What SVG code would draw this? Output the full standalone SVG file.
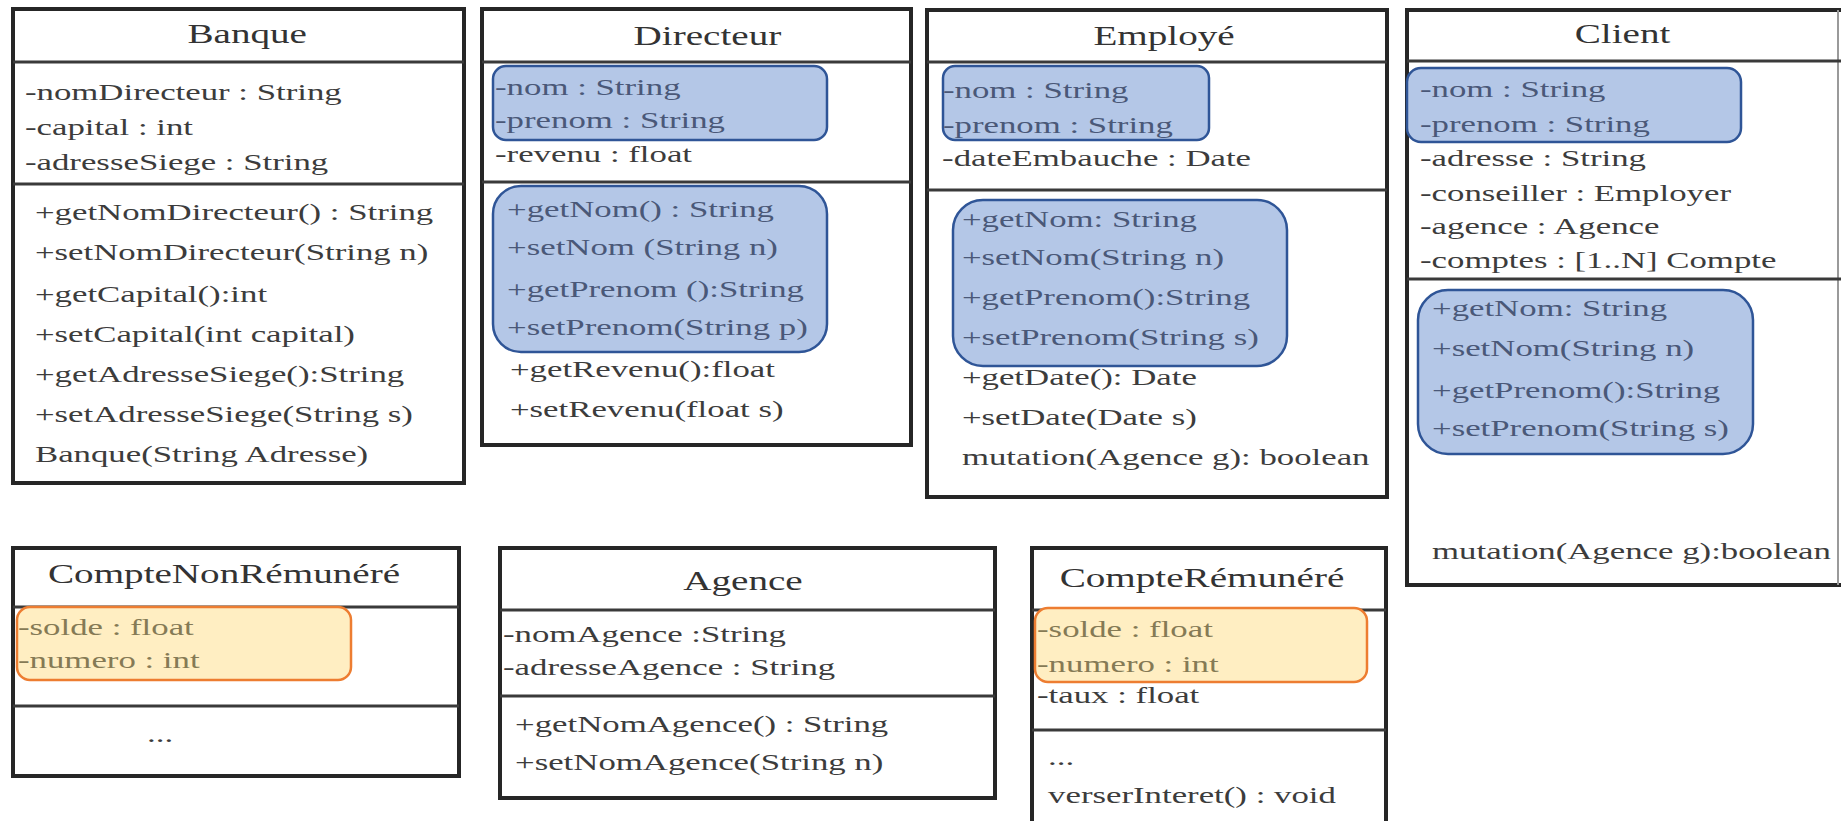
<svg xmlns="http://www.w3.org/2000/svg" width="1841" height="821" viewBox="0 0 1841 821">
  <style>
    .box { fill: #ffffff; stroke: #262626; stroke-width: 4; }
    .sep { stroke: #3a3a3a; stroke-width: 3; }
    .edge { stroke: #9a9a9a; stroke-width: 2; }
    .hb { fill: #b4c7e7; stroke: #2f5597; stroke-width: 2.5; }
    .ho { fill: #ffeec2; stroke: #ed7d31; stroke-width: 2.5; }
    text { font-family: "Liberation Serif", "Times New Roman", serif; font-size: 24px; fill: #3c3c3c; }
    .title { font-size: 27px; text-anchor: middle; fill: #333333; }
    .tb { fill: #4a5878; }
    .to { fill: #857a55; }
  </style>

  <rect width="1841" height="821" fill="#ffffff"/>

  <!-- Banque -->
  <g id="banque">
    <rect class="box" x="13" y="9" width="451" height="474"/>
    <line class="sep" x1="13" y1="62" x2="464" y2="62"/>
    <line class="sep" x1="13" y1="184" x2="464" y2="184"/>
    <g transform="scale(1.45 1)">
      <text class="title" x="170.5" y="43">Banque</text>
      <text x="17.2" y="100">-nomDirecteur : String</text>
      <text x="17.2" y="135">-capital : int</text>
      <text x="17.2" y="170">-adresseSiege : String</text>
      <text x="24.1" y="220">+getNomDirecteur() : String</text>
      <text x="24.1" y="260">+setNomDirecteur(String n)</text>
      <text x="24.1" y="302">+getCapital():int</text>
      <text x="24.1" y="342">+setCapital(int capital)</text>
      <text x="24.1" y="382">+getAdresseSiege():String</text>
      <text x="24.1" y="422">+setAdresseSiege(String s)</text>
      <text x="24.1" y="462">Banque(String Adresse)</text>
    </g>
  </g>

  <!-- Directeur -->
  <g id="directeur">
    <rect class="box" x="482" y="9" width="429" height="436"/>
    <line class="sep" x1="482" y1="62" x2="911" y2="62"/>
    <line class="sep" x1="482" y1="182" x2="911" y2="182"/>
    <rect class="hb" x="493" y="66" width="334" height="74" rx="13"/>
    <rect class="hb" x="493" y="186" width="334" height="166" rx="28"/>
    <g transform="scale(1.45 1)">
      <text class="title" x="487.9" y="45">Directeur</text>
      <text class="tb" x="341.4" y="95">-nom : String</text>
      <text class="tb" x="341.4" y="128">-prenom : String</text>
      <text x="341.4" y="162">-revenu : float</text>
      <text class="tb" x="349.7" y="217">+getNom() : String</text>
      <text class="tb" x="349.7" y="255">+setNom (String n)</text>
      <text class="tb" x="349.7" y="297">+getPrenom ():String</text>
      <text class="tb" x="349.7" y="335">+setPrenom(String p)</text>
      <text x="351.7" y="377">+getRevenu():float</text>
      <text x="351.7" y="417">+setRevenu(float s)</text>
    </g>
  </g>

  <!-- Employé -->
  <g id="employe">
    <rect class="box" x="927" y="10" width="460" height="487"/>
    <line class="sep" x1="927" y1="62" x2="1387" y2="62"/>
    <line class="sep" x1="927" y1="190" x2="1387" y2="190"/>
    <rect class="hb" x="943" y="66" width="266" height="74" rx="12"/>
    <rect class="hb" x="953" y="200" width="334" height="166" rx="30"/>
    <g transform="scale(1.45 1)">
      <text class="title" x="802.8" y="45">Employé</text>
      <text class="tb" x="650.3" y="98">-nom : String</text>
      <text class="tb" x="650.3" y="133">-prenom : String</text>
      <text x="649.7" y="166">-dateEmbauche : Date</text>
      <text class="tb" x="663.4" y="227">+getNom: String</text>
      <text class="tb" x="663.4" y="265">+setNom(String n)</text>
      <text class="tb" x="663.4" y="305">+getPrenom():String</text>
      <text class="tb" x="663.4" y="345">+setPrenom(String s)</text>
      <text x="663.4" y="385">+getDate(): Date</text>
      <text x="663.4" y="425">+setDate(Date s)</text>
      <text x="663.4" y="465">mutation(Agence g): boolean</text>
    </g>
  </g>

  <!-- Client (runs past the right edge) -->
  <g id="client">
    <rect class="box" x="1407" y="10" width="445" height="575"/>
    <line class="edge" x1="1838" y1="10" x2="1838" y2="585"/>
    <line class="sep" x1="1407" y1="61" x2="1841" y2="61"/>
    <line class="sep" x1="1407" y1="279" x2="1841" y2="279"/>
    <rect class="hb" x="1407" y="68" width="334" height="74" rx="14"/>
    <rect class="hb" x="1418" y="290" width="335" height="164" rx="30"/>
    <g transform="scale(1.45 1)">
      <text class="title" x="1119" y="43">Client</text>
      <text class="tb" x="979.3" y="97">-nom : String</text>
      <text class="tb" x="979.3" y="132">-prenom : String</text>
      <text x="979.3" y="166">-adresse : String</text>
      <text x="979.3" y="201">-conseiller : Employer</text>
      <text x="979.3" y="234">-agence : Agence</text>
      <text x="979.3" y="268">-comptes : [1..N] Compte</text>
      <text class="tb" x="987.6" y="316">+getNom: String</text>
      <text class="tb" x="987.6" y="356">+setNom(String n)</text>
      <text class="tb" x="987.6" y="398">+getPrenom():String</text>
      <text class="tb" x="987.6" y="436">+setPrenom(String s)</text>
      <text x="987.6" y="559">mutation(Agence g):boolean</text>
    </g>
  </g>

  <!-- CompteNonRémunéré -->
  <g id="compte-non-remunere">
    <rect class="box" x="13" y="548" width="446" height="228"/>
    <line class="sep" x1="13" y1="607" x2="459" y2="607"/>
    <line class="sep" x1="13" y1="706" x2="459" y2="706"/>
    <rect class="ho" x="17" y="607" width="334" height="73" rx="13"/>
    <g transform="scale(1.45 1)">
      <text class="title" x="154.5" y="583">CompteNonRémunéré</text>
      <text class="to" x="12.4" y="635">-solde : float</text>
      <text class="to" x="12.4" y="668">-numero : int</text>
      <text x="101.4" y="742">...</text>
    </g>
  </g>

  <!-- Agence -->
  <g id="agence">
    <rect class="box" x="500" y="548" width="495" height="250"/>
    <line class="sep" x1="500" y1="610" x2="995" y2="610"/>
    <line class="sep" x1="500" y1="696" x2="995" y2="696"/>
    <g transform="scale(1.45 1)">
      <text class="title" x="512.4" y="590">Agence</text>
      <text x="346.9" y="642">-nomAgence :String</text>
      <text x="346.9" y="675">-adresseAgence : String</text>
      <text x="355.2" y="732">+getNomAgence() : String</text>
      <text x="355.2" y="770">+setNomAgence(String n)</text>
    </g>
  </g>

  <!-- CompteRémunéré (runs past the bottom edge) -->
  <g id="compte-remunere">
    <rect class="box" x="1032" y="548" width="354" height="290"/>
    <line class="sep" x1="1032" y1="610" x2="1386" y2="610"/>
    <line class="sep" x1="1032" y1="730" x2="1386" y2="730"/>
    <rect class="ho" x="1035" y="608" width="332" height="74" rx="13"/>
    <g transform="scale(1.45 1)">
      <text class="title" x="829" y="587">CompteRémunéré</text>
      <text class="to" x="715.2" y="637">-solde : float</text>
      <text class="to" x="715.2" y="672">-numero : int</text>
      <text x="715.2" y="703">-taux : float</text>
      <text x="722.8" y="765">...</text>
      <text x="722.8" y="803">verserInteret() : void</text>
    </g>
  </g>

  <g id="connectors"/>
</svg>
